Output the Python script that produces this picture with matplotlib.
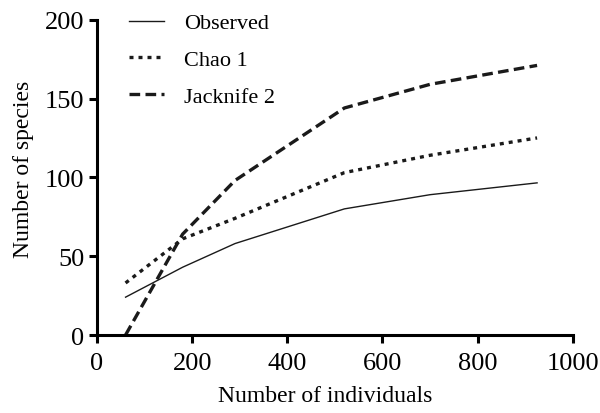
import matplotlib.pyplot as plt

individuals = [60, 180, 290, 520, 700, 925]
observed = [24, 43, 58, 80, 89, 96.5]
chao1 = [33, 61, 74, 103, 114, 125]
jacknife2 = [0, 64, 98, 144, 159, 171]

plt.rcParams['font.family'] = ['Liberation Serif', 'DejaVu Serif']

fig = plt.figure(figsize=(6, 4.14), dpi=100)
ax = fig.add_axes([0.1617, 0.1884, 0.7929, 0.7616])

ax.plot(individuals, observed, color='#1a1a1a', lw=1.0, label='Observed')
ax.plot(individuals, chao1, color='#1a1a1a', lw=2.4, linestyle=(0, (1.2, 1.5)),
        dash_capstyle='butt', label='Chao 1')
ax.plot(individuals, jacknife2, color='#1a1a1a', lw=2.4, linestyle=(0, (3.2, 1.6)),
        dash_capstyle='butt', label='Jacknife 2')

ax.set_xlim(0, 1000)
ax.set_ylim(0, 200)
ax.set_xticks([0, 200, 400, 600, 800, 1000])
ax.set_yticks([0, 50, 100, 150, 200])

for s in ['top', 'right']:
    ax.spines[s].set_visible(False)
for s in ['left', 'bottom']:
    ax.spines[s].set_linewidth(2.2)
ax.tick_params(width=2.2, length=6, labelsize=19, pad=3)
ax.tick_params(axis='x', pad=6)

ax.set_xlabel('Number of individuals', fontsize=17, labelpad=8, x=0.48)
ax.set_ylabel('Number of species', fontsize=17, labelpad=8, y=0.53)

ax.legend(loc='upper left', bbox_to_anchor=(0.025, 1.085), frameon=False,
          fontsize=16, handlelength=1.6, handletextpad=0.9, labelspacing=0.72)

plt.savefig('out.png', dpi=100)
plt.close()
